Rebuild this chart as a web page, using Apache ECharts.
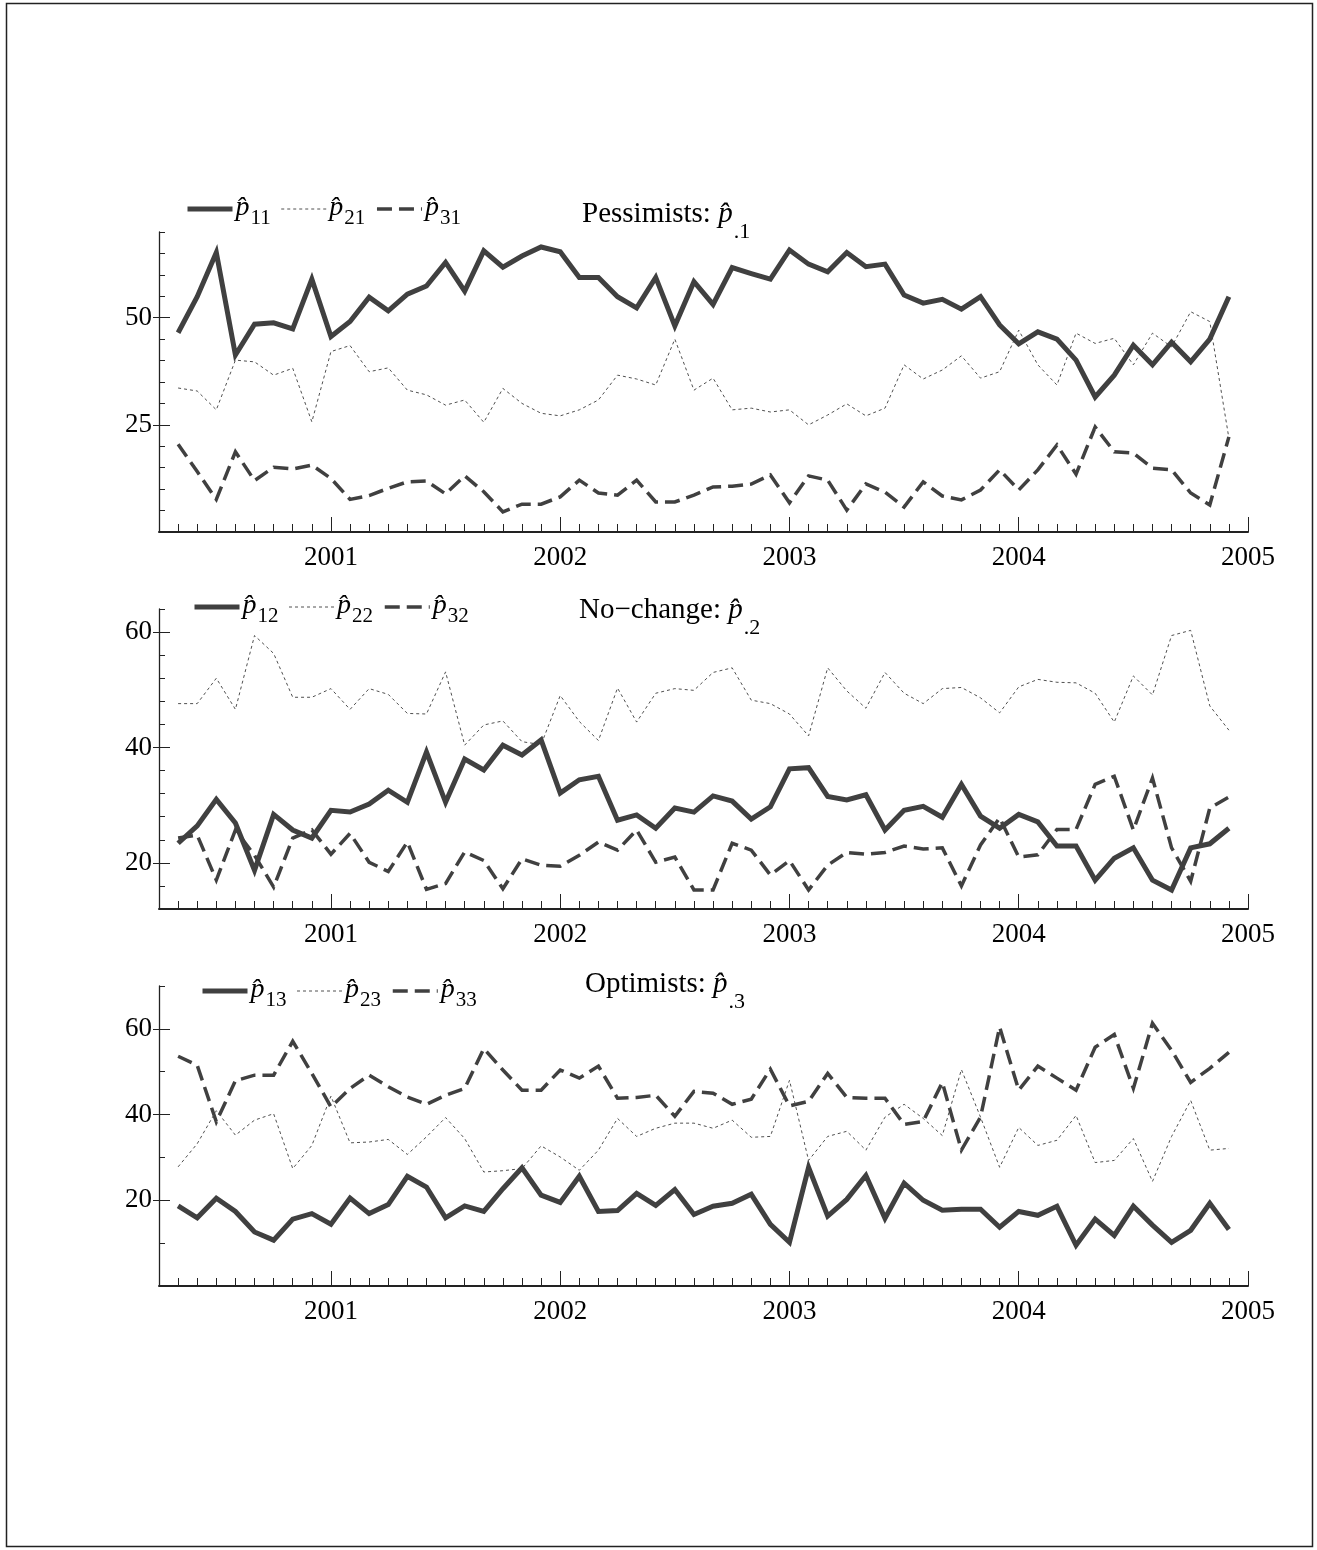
<!DOCTYPE html>
<html>
<head>
<meta charset="utf-8">
<script src="https://cdn.jsdelivr.net/npm/echarts@6/dist/echarts.min.js"></script>
<style>
html, body { margin: 0; padding: 0; background: #fff; }
#chart { width: 1317px; height: 1550px; }
</style>
</head>
<body>
<div id="chart"></div>
<script>
// Monthly observations, May 2000 – Dec 2004
const months = [
  '2000-05','2000-06','2000-07','2000-08','2000-09','2000-10','2000-11','2000-12',
  '2001-01','2001-02','2001-03','2001-04','2001-05','2001-06','2001-07','2001-08','2001-09','2001-10','2001-11','2001-12',
  '2002-01','2002-02','2002-03','2002-04','2002-05','2002-06','2002-07','2002-08','2002-09','2002-10','2002-11','2002-12',
  '2003-01','2003-02','2003-03','2003-04','2003-05','2003-06','2003-07','2003-08','2003-09','2003-10','2003-11','2003-12',
  '2004-01','2004-02','2004-03','2004-04','2004-05','2004-06','2004-07','2004-08','2004-09','2004-10','2004-11','2004-12'
];
const yearLabels = ['2001', '2002', '2003', '2004', '2005'];

// Pessimists
const p11 = [46.5,54.9,65.2,41.3,48.5,48.8,47.4,59.0,45.6,49.1,54.8,51.6,55.5,57.4,62.9,56.2,65.6,61.8,64.4,66.5,
             65.4,59.4,59.4,54.9,52.3,59.4,48.1,58.4,53.1,61.7,60.3,59.0,65.8,62.5,60.7,65.2,61.9,62.5,55.3,53.4,
             54.3,52.0,54.9,48.3,43.9,46.7,45.0,40.1,31.5,36.6,43.6,39.0,44.3,39.7,45.0,54.9];
const p21 = [33.6,32.9,28.5,40.1,39.7,36.6,38.2,25.7,42.1,43.5,37.4,38.3,33.1,32.0,29.6,30.8,25.6,33.5,30.0,27.7,
             27.1,28.5,30.8,36.6,35.7,34.3,45.0,33.1,35.9,28.5,28.9,28.0,28.5,25.0,27.3,29.9,27.1,28.9,39.0,35.7,
             37.8,41.1,35.9,37.4,47.1,39.0,34.3,46.4,44.0,45.2,39.0,46.4,43.2,51.4,49.1,21.9];
const p31 = [20.5,14.1,7.6,18.7,12.0,15.1,14.7,15.6,12.5,7.6,8.5,10.2,11.7,11.9,8.9,13.1,9.4,4.7,6.5,6.5,
             8.2,12.1,9.1,8.6,12.1,7.0,7.0,8.6,10.5,10.7,11.2,13.3,6.8,13.1,12.1,5.1,11.2,9.3,5.8,11.7,
             8.4,7.5,9.8,14.5,9.8,14.5,20.3,13.5,24.5,18.7,18.4,14.9,14.5,9.1,6.3,22.2];

// No-change
const p12 = [23.4,26.4,31.0,26.9,18.7,28.4,25.7,24.3,29.1,28.8,30.2,32.6,30.5,39.2,30.5,38.0,36.1,40.4,38.7,41.3,
             32.1,34.4,35.0,27.4,28.3,26.0,29.5,28.8,31.6,30.7,27.6,29.7,36.3,36.5,31.5,30.9,31.8,25.7,29.1,29.8,
             27.9,33.6,28.1,26.0,28.4,27.1,22.9,22.9,17.0,20.8,22.6,17.0,15.3,22.6,23.3,26.0];
const p22 = [47.6,47.6,52.0,46.6,59.4,56.3,48.7,48.7,50.2,46.6,50.2,49.2,45.9,45.8,53.1,40.4,43.9,44.6,41.0,40.5,
             49.0,44.5,41.2,50.3,44.4,49.4,50.2,49.9,53.0,53.8,48.2,47.6,45.8,42.0,53.8,49.8,46.8,53.0,49.4,47.6,
             50.2,50.4,48.6,46.0,50.5,51.8,51.3,51.2,49.4,44.4,52.4,49.1,59.4,60.3,47.2,43.0];
const p32 = [24.3,24.8,17.0,25.7,21.3,15.8,24.3,25.7,21.5,25.1,20.1,18.5,23.6,15.4,16.4,21.9,20.4,15.5,20.7,19.6,
             19.4,21.3,23.6,22.2,25.7,20.1,21.0,15.3,15.3,23.4,22.2,17.9,20.4,15.3,19.6,21.8,21.5,21.8,22.9,22.4,
             22.6,16.0,23.1,27.8,21.0,21.4,25.8,25.8,33.6,35.0,25.7,34.7,22.6,16.8,29.5,31.4];

// Optimists
const p13 = [18.7,15.9,20.5,17.4,12.6,10.7,15.6,16.9,14.4,20.5,16.9,19.0,25.6,23.1,15.9,18.7,17.4,22.7,27.6,21.2,
             19.5,25.6,17.4,17.6,21.6,18.8,22.5,16.7,18.6,19.3,21.4,14.4,10.2,27.7,16.3,20.2,25.8,15.8,24.0,20.0,
             17.7,17.9,17.9,13.7,17.4,16.5,18.6,9.5,15.6,11.8,18.6,14.2,10.2,13.0,19.3,13.2];
const p23 = [27.8,33.2,40.9,35.2,38.7,40.2,27.4,32.8,44.3,33.4,33.6,34.2,30.7,34.8,39.3,34.4,26.6,26.9,27.4,32.7,
             30.1,27.0,31.7,39.1,34.9,36.8,38.0,38.0,36.8,38.7,34.7,34.9,48.0,29.3,34.9,36.1,31.7,39.4,42.4,39.1,
             35.1,50.5,39.4,27.7,37.0,32.8,34.0,39.8,28.8,29.3,34.4,24.4,34.9,43.3,31.7,32.1];
const p33 = [53.6,51.5,38.3,47.9,49.2,49.2,57.1,49.6,41.8,46.1,49.2,46.5,44.1,42.4,44.5,46.1,55.4,50.4,45.7,45.7,
             50.4,48.5,51.3,43.8,44.0,44.5,39.6,45.4,45.0,42.4,43.6,50.6,42.0,43.1,49.6,44.0,43.8,43.8,37.7,38.4,
             47.5,31.7,39.4,60.4,45.7,51.3,48.5,45.7,55.7,58.7,46.1,61.3,55.0,47.5,50.8,54.5];

// Panel definitions: series triples, axis ranges and tick values
const panels = [
  { title: 'Pessimists: ', sub: '.1', names: ['11', '21', '31'], data: [p11, p21, p31],
    min: 0, max: 70, minor: [5,10,15,20,30,35,40,45,55,60,65,70], major: [25, 50],
    top: 232, legendLeft: 185, legendTop: 194, titleLeft: 582, titleTop: 200 },
  { title: 'No\u2212change: ', sub: '.2', names: ['12', '22', '32'], data: [p12, p22, p32],
    min: 12, max: 64, minor: [16,24,28,32,36,44,48,52,56,64], major: [20, 40, 60],
    top: 609, legendLeft: 192, legendTop: 592, titleLeft: 579, titleTop: 596 },
  { title: 'Optimists: ', sub: '.3', names: ['13', '23', '33'], data: [p13, p23, p33],
    min: 0, max: 70, minor: [10, 30, 50, 70], major: [20, 40, 60],
    top: 986, legendLeft: 200, legendTop: 976, titleLeft: 585, titleTop: 970 }
];

const FONT = '"Liberation Serif", "Times New Roman", serif';
const INK = '#404040';
const lineStyles = [
  { color: INK, width: 5, type: 'solid', join: 'miter', miterLimit: 6 },
  { color: '#505050', width: 1, type: [3, 3], join: 'miter' },
  { color: INK, width: 3.5, type: [15, 7], join: 'miter', miterLimit: 6 }
];

function monthIndex(s) {
  const [y, m] = s.split('-').map(Number);
  return (y - 2000) * 12 + (m - 1);
}
const monthTicks = months.map(monthIndex);
const yearTicks = yearLabels.map(y => (Number(y) - 2000) * 12);
const X_MIN = 3, X_MAX = 60;

const grid = [], xAxis = [], yAxis = [], series = [], legend = [], title = [];

const hatP = 'p\u0302';

panels.forEach((pn, g) => {
  grid.push({ left: 159, right: 69, top: pn.top, height: 300 });

  // monthly minor ticks and the axis line
  xAxis.push({
    gridIndex: g, type: 'value', min: X_MIN, max: X_MAX,
    axisLine: { show: true, onZero: false, lineStyle: { color: '#222', width: 2 } },
    axisTick: { show: true, inside: true, length: 8, customValues: monthTicks, lineStyle: { color: '#222', width: 1 } },
    axisLabel: { show: false }, splitLine: { show: false }
  });
  // yearly major ticks with labels
  xAxis.push({
    gridIndex: g, type: 'value', min: X_MIN, max: X_MAX, position: 'bottom',
    axisLine: { show: false, onZero: false },
    axisTick: { show: true, inside: true, length: 15, customValues: yearTicks, lineStyle: { color: '#222', width: 1 } },
    axisLabel: {
      show: true, customValues: yearTicks, margin: 12,
      formatter: v => yearLabels[yearTicks.indexOf(v)],
      fontFamily: FONT, fontSize: 27, color: '#000'
    },
    splitLine: { show: false }
  });

  // minor y ticks and the axis line
  yAxis.push({
    gridIndex: g, type: 'value', min: pn.min, max: pn.max,
    axisLine: { show: true, onZero: false, lineStyle: { color: '#222', width: 1.3 } },
    axisTick: { show: true, inside: true, length: 6, customValues: pn.minor, lineStyle: { color: '#222', width: 1 } },
    axisLabel: { show: false }, splitLine: { show: false }
  });
  // major y ticks (inner part) with labels
  yAxis.push({
    gridIndex: g, type: 'value', min: pn.min, max: pn.max, position: 'left',
    axisLine: { show: false, onZero: false },
    axisTick: { show: true, inside: true, length: 11, customValues: pn.major, lineStyle: { color: '#222', width: 1 } },
    axisLabel: { show: true, customValues: pn.major, margin: 7, fontFamily: FONT, fontSize: 27, color: '#000' },
    splitLine: { show: false }
  });
  // major y ticks (outer part)
  yAxis.push({
    gridIndex: g, type: 'value', min: pn.min, max: pn.max, position: 'left',
    axisLine: { show: false, onZero: false },
    axisTick: { show: true, inside: false, length: 6, customValues: pn.major, lineStyle: { color: '#222', width: 1 } },
    axisLabel: { show: false }, splitLine: { show: false }
  });

  const names = pn.names.map(n => 'p' + n);
  pn.data.forEach((vals, k) => {
    series.push({
      name: names[k], type: 'line', xAxisIndex: g * 2, yAxisIndex: g * 3,
      data: months.map((m, i) => [monthIndex(m), vals[i]]),
      symbol: 'none', lineStyle: lineStyles[k], itemStyle: { color: lineStyles[k].color },
      silent: true, animation: false, z: 3 - k
    });
  });

  legend.push({
    data: names.map((n, k) => ({
      name: n,
      lineStyle: { width: lineStyles[k].width, type: lineStyles[k].type, color: lineStyles[k].color }
    })),
    left: pn.legendLeft, top: pn.legendTop, orient: 'horizontal',
    padding: 0, itemWidth: 45, itemHeight: 12, itemGap: 10, selectedMode: false,
    itemStyle: { opacity: 0 },
    formatter: name => '{p|' + hatP + '}{s|' + name.slice(1) + '}',
    textStyle: {
      padding: [0, 0, 0, -2],
      rich: {
        p: { fontFamily: FONT, fontStyle: 'italic', fontWeight: 'normal', fontSize: 28, color: '#000', lineHeight: 30, verticalAlign: 'top' },
        s: { fontFamily: FONT, fontWeight: 'normal', fontSize: 21, color: '#000', lineHeight: 22, padding: [14, 0, 0, 1], verticalAlign: 'top' }
      }
    }
  });

  title.push({
    left: pn.titleLeft, top: pn.titleTop, padding: 0,
    text: '{t|' + pn.title + '}{p|' + hatP + '}{s|' + pn.sub + '}',
    textStyle: {
      fontWeight: 'normal',
      rich: {
        t: { fontFamily: FONT, fontWeight: 'normal', fontSize: 29, color: '#000', lineHeight: 32, verticalAlign: 'top' },
        p: { fontFamily: FONT, fontStyle: 'italic', fontWeight: 'normal', fontSize: 29, color: '#000', lineHeight: 32, verticalAlign: 'top' },
        s: { fontFamily: FONT, fontWeight: 'normal', fontSize: 22, color: '#000', lineHeight: 24, padding: [21, 0, 0, 1], verticalAlign: 'top' }
      }
    }
  });
});

const chart = echarts.init(document.getElementById('chart'), null, { renderer: 'canvas' });
chart.setOption({
  backgroundColor: '#fff',
  animation: false,
  grid, xAxis, yAxis, series, legend, title,
  graphic: [{
    type: 'rect', silent: true,
    shape: { x: 6.5, y: 3.5, width: 1306, height: 1543 },
    style: { fill: 'none', stroke: '#222', lineWidth: 1.5 }
  }]
});
</script>
</body>
</html>
